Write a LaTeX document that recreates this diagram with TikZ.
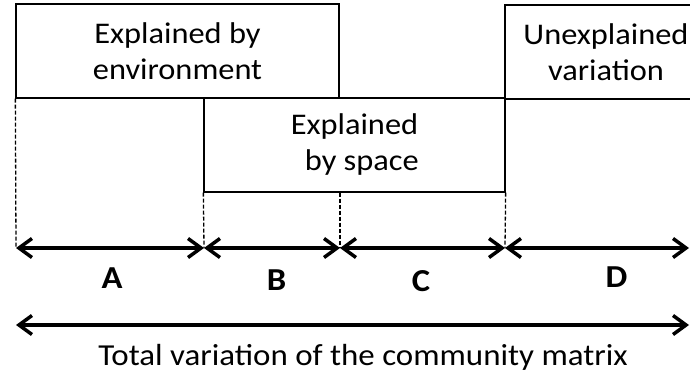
\documentclass[tikz,border=0pt]{standalone}
\usepackage{fontspec}
\setmainfont{Carlito}[FakeStretch=1.08]
\usetikzlibrary{arrows.meta}
\begin{document}
\begin{tikzpicture}[x=1pt,y=-1pt,
  box/.style={draw,line width=1.3pt,rectangle,inner sep=0pt,align=center,
    font=\fontsize{30}{36}\selectfont},
  guide/.style={line width=1.3pt,dash pattern=on 4pt off 2pt},
  span/.style={line width=4pt,{Straight Barb[length=13pt,width=19pt,line width=3.5pt]}-{Straight Barb[length=13pt,width=19pt,line width=3.5pt]}},
  lbl/.style={anchor=base,font=\fontsize{32}{36}\selectfont\bfseries},
  total/.style={anchor=base,font=\fontsize{30.5}{36}\selectfont}]
\useasboundingbox (0,0) rectangle (690,374);
\clip (0,0) rectangle (690,374);
\node[box,minimum width=323pt,minimum height=94pt] (env) at (177.5,51) {Explained by\\environment};
\node[box,minimum width=301pt,minimum height=94pt] (spc) at (354.5,145) {Explained\\\ \ by space};
\node[box,minimum width=202pt,minimum height=94pt,text width=190pt] (unx) at (606,52) {Unexplained\\variation};
\coordinate (a0) at (16,248);
\coordinate (a1) at (204,248);
\coordinate (a2) at (340,248);
\coordinate (a3) at (505,248);
\coordinate (a4) at (689,248);
\coordinate (t0) at (16,325);
\coordinate (t1) at (689,325);
\draw[guide] (env.south west) -- (a0);
\draw[guide] (spc.south west) -- (a1);
\draw[guide] (spc.south -| a2) -- (a2);
\draw[guide] (spc.south east) -- (a3);
\draw[span] (a0) -- (a1);
\draw[span] (a1) -- (a2);
\draw[span] (a2) -- (a3);
\draw[span] (a3) -- (a4);
\draw[span] (t0) -- (t1);
\node[lbl] (A) at (112,288) {A};
\node[lbl] (B) at (276.5,290) {B};
\node[lbl] (C) at (421,291) {C};
\node[lbl] (D) at (616.5,287) {D};
\node[total] (tot) at (363,365) {Total variation of the community matrix};
\end{tikzpicture}
\end{document}
